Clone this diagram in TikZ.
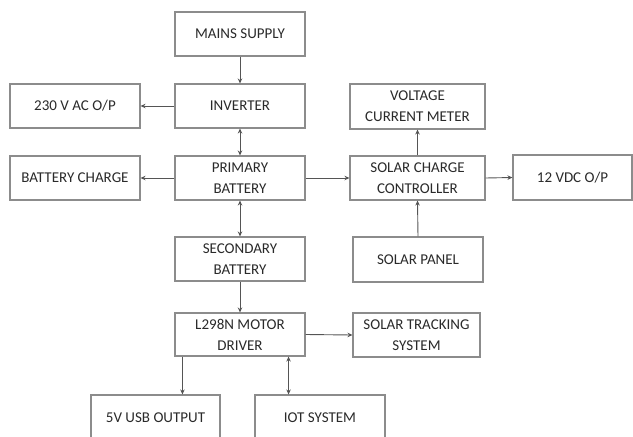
\documentclass[tikz,border=0pt]{standalone}
\usepackage{fontspec}
\setmainfont{Carlito}
\usetikzlibrary{arrows.meta,calc}
\definecolor{boxline}{HTML}{8C8C8C}
\definecolor{wire}{HTML}{555555}
\definecolor{txt}{HTML}{2A2A2A}
\tikzset{
  blk/.style={draw=boxline, line width=1.1pt, fill=white, text=txt, align=center,
    inner sep=0pt, font=\fontsize{15}{21}\selectfont},
  arr/.style={draw=wire, line width=0.9pt, -{Stealth[length=5pt,width=4.5pt]}},
  darr/.style={draw=wire, line width=0.9pt, {Stealth[length=5pt,width=4.5pt]}-{Stealth[length=5pt,width=4.5pt]}}
}
\begin{document}
\begin{tikzpicture}[x=1pt,y=-1pt]
\useasboundingbox (0,0) rectangle (633,437);
\clip (0,0) rectangle (633,437);
\node[blk, minimum width=130pt, minimum height=44pt] (mains) at (240,34) {MAINS SUPPLY};
\node[blk, minimum width=130pt, minimum height=44pt] (inv) at (240,106) {INVERTER};
\node[blk, minimum width=130pt, minimum height=44pt] (ac) at (75,106) {230 V AC O/P};
\node[blk, minimum width=130pt, minimum height=44pt] (bc) at (75,178) {BATTERY CHARGE};
\node[blk, minimum width=130pt, minimum height=44pt] (pri) at (240,178) {PRIMARY\\BATTERY};
\node[blk, minimum width=130pt, minimum height=44pt] (sec) at (240,259) {SECONDARY\\BATTERY};
\node[blk, minimum width=130pt, minimum height=43pt] (drv) at (240,334.5) {L298N MOTOR\\DRIVER};
\node[blk, minimum width=129pt, minimum height=46pt] (usb) at (155.5,418) {5V USB OUTPUT};
\node[blk, minimum width=130pt, minimum height=46pt] (iot) at (320,418) {IOT SYSTEM};
\node[blk, minimum width=127pt, minimum height=44pt] (trk) at (416.5,335) {SOLAR TRACKING\\SYSTEM};
\node[blk, minimum width=135pt, minimum height=45pt] (vcm) at (417.5,106.5) {VOLTAGE\\CURRENT METER};
\node[blk, minimum width=135pt, minimum height=44pt] (scc) at (417.5,178) {SOLAR CHARGE\\CONTROLLER};
\node[blk, minimum width=119pt, minimum height=45pt] (vdc) at (572.5,177.5) {12 VDC O/P};
\node[blk, minimum width=130pt, minimum height=45pt] (pan) at (418,259.5) {SOLAR PANEL};

\draw[arr] (mains.south) -- (inv.north);
\draw[arr] (inv.west) -- (ac.east);
\draw[darr] (inv.south) -- (pri.north);
\draw[arr] (pri.west) -- (bc.east);
\draw[arr] (pri.east) -- (scc.west);
\draw[arr] (scc.north) -- (vcm.south);
\draw[arr] (pan.north) -- (scc.south);
\draw[arr] (scc.east) -- (vdc.west);
\draw[darr] (pri.south) -- (sec.north);
\draw[arr] (sec.south) -- (drv.north);
\draw[arr] (drv.east) -- (trk.west);
\coordinate (d1) at ([xshift=8pt]drv.south west);
\coordinate (d2) at ([xshift=-17pt]drv.south east);
\draw[arr] (d1) -- (d1 |- usb.north);
\draw[darr] (d2) -- (d2 |- iot.north);
\end{tikzpicture}
\end{document}
